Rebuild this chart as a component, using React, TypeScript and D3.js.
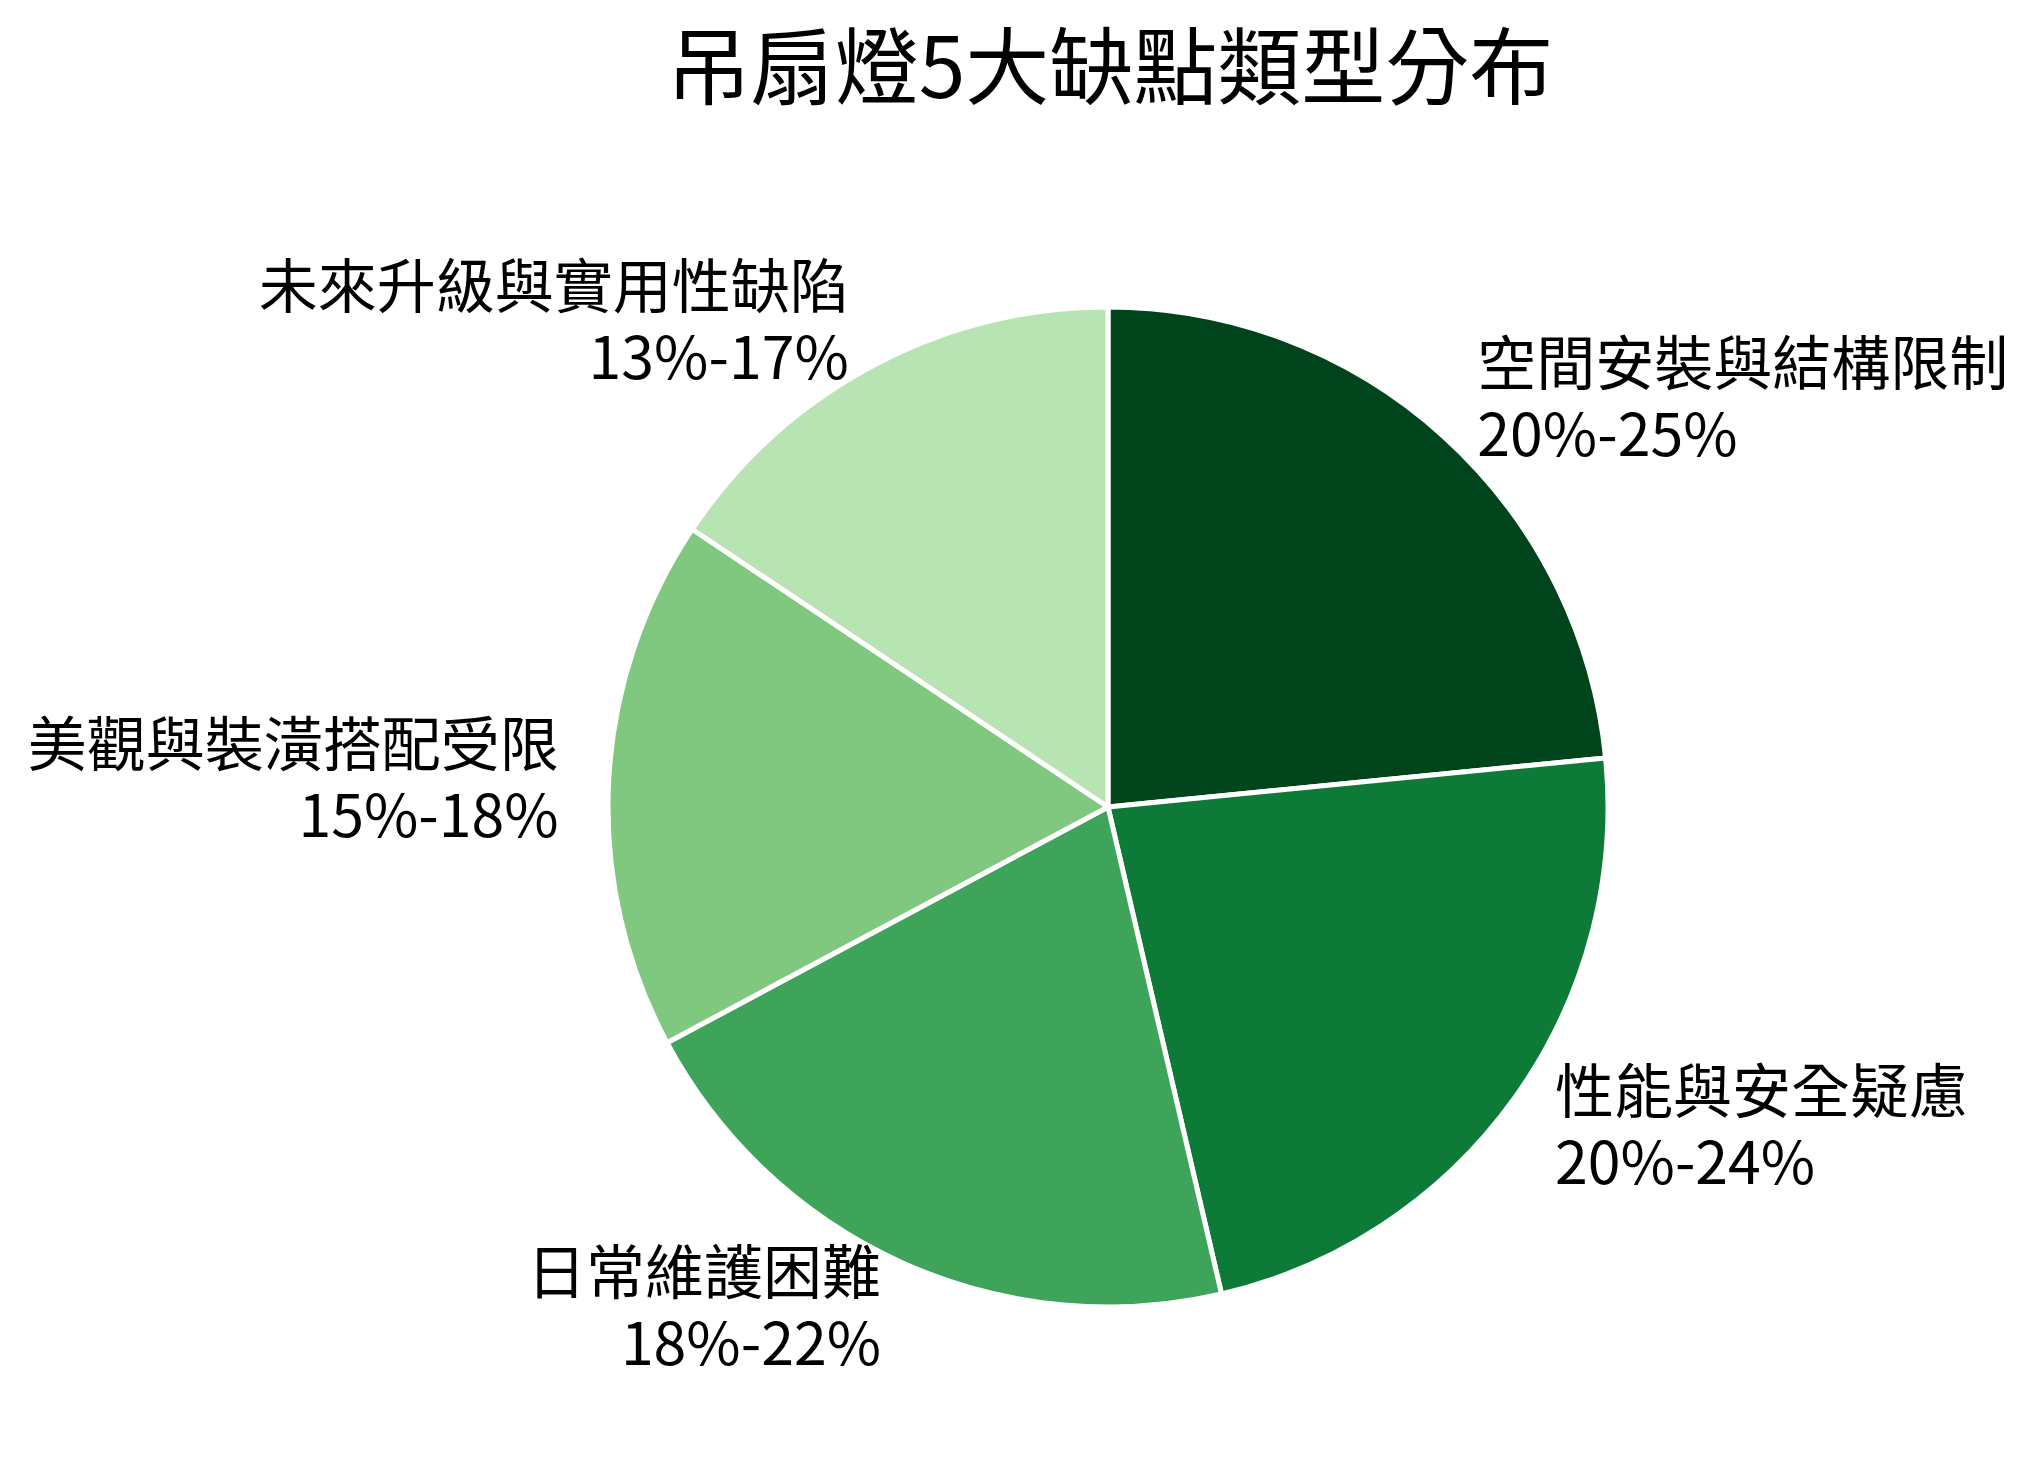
import React from 'react';
import * as d3 from 'd3';

const WIDTH = 2035;
const HEIGHT = 1468;

const categories = [
  '空間安裝與結構限制',
  '性能與安全疑慮',
  '日常維護困難',
  '美觀與裝潢搭配受限',
  '未來升級與實用性缺陷',
];
const rangeLabels = ['20%-25%', '20%-24%', '18%-22%', '15%-18%', '13%-17%'];
// midpoint of each range
const values = [22.5, 22, 20, 16.5, 15];
const colors = ['#00441b', '#0e7a37', '#3da45a', '#80c880', '#b8e3b3'];

const TITLE = '吊扇燈5大缺點類型分布';
const FONT = '"Noto Sans CJK TC", "Noto Sans", sans-serif';

const CX = 1108;
const CY = 807;
const R = 500;
const LABEL_FS = 59;
const LINE_H = 71;

const App: React.FC = () => {
  const data = categories.map((c, i) => ({ name: c, range: rangeLabels[i], value: values[i], color: colors[i] }));

  const pie = d3.pie<typeof data[number]>()
    .sort(null)
    .value(d => d.value)
    .startAngle(0)
    .endAngle(2 * Math.PI);

  const arc = d3.arc<d3.PieArcDatum<typeof data[number]>>()
    .innerRadius(0)
    .outerRadius(R);

  const arcs = pie(data);

  return (
    <svg
      width={WIDTH}
      height={HEIGHT}
      style={{ position: 'absolute', left: 0, top: 0, background: '#fff', fontFamily: FONT }}
    >
      <text x={1110} y={98} textAnchor="middle" fontSize={84} fill="#000">
        {TITLE}
      </text>
      <g transform={`translate(${CX},${CY})`}>
        {arcs.map((a, i) => (
          <path key={i} d={arc(a) || ''} fill={a.data.color} stroke="#fff" strokeWidth={5} strokeLinejoin="round" />
        ))}
        {arcs.map((a, i) => {
          const mid = (a.startAngle + a.endAngle) / 2;
          const lx = R * 1.1 * Math.sin(mid);
          const ly = -R * 1.1 * Math.cos(mid);
          const anchor = lx >= 0 ? 'start' : 'end';
          const base1 = ly + 0.36 * LABEL_FS - LINE_H / 2;
          return (
            <text key={`l${i}`} x={lx} textAnchor={anchor} fontSize={LABEL_FS} fill="#000">
              <tspan x={lx} y={base1}>{a.data.name}</tspan>
              <tspan x={lx} y={base1 + LINE_H}>{a.data.range}</tspan>
            </text>
          );
        })}
      </g>
    </svg>
  );
};

export default App;
